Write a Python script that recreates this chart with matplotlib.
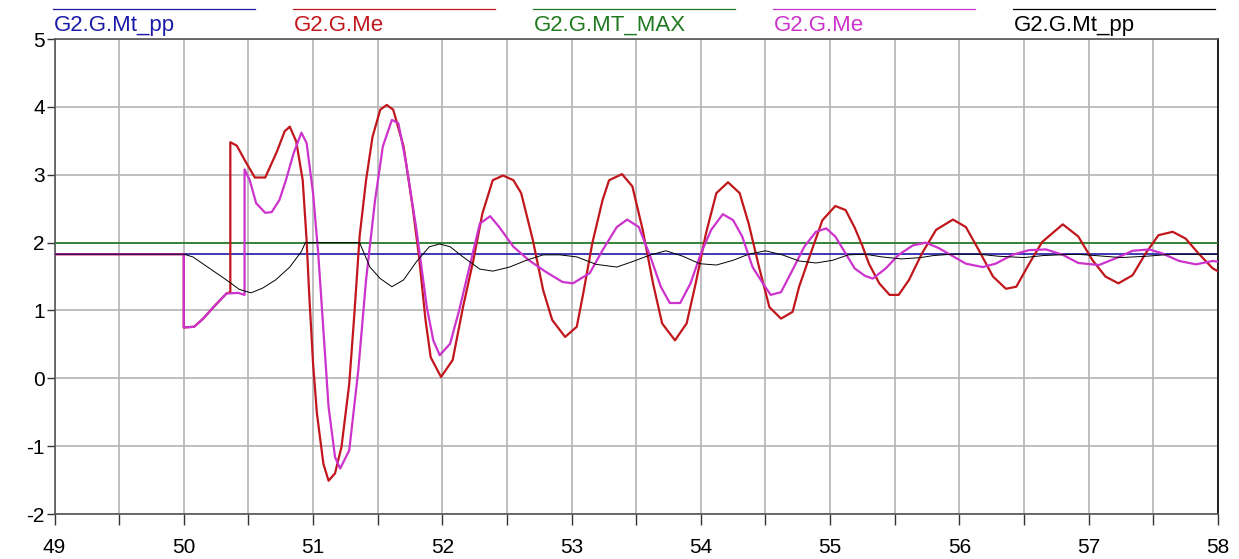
import numpy as np
import matplotlib
matplotlib.use("Agg")
import matplotlib.pyplot as plt
from matplotlib.lines import Line2D
from matplotlib.ticker import MultipleLocator

plt.rcParams["font.family"] = ["Liberation Sans", "DejaVu Sans"]
plt.rcParams["axes.unicode_minus"] = False

# -------------------------
# Data
# -------------------------
mt_pp_level = 1.83
mt_max_level = 2.0
x_range = [49, 58]

me_red_x = [49, 50.0, 50.0, 50.08, 50.15, 50.23, 50.33, 50.36, 50.36, 50.41, 50.485, 50.55,
            50.63, 50.72, 50.78, 50.82, 50.87, 50.92, 50.95, 50.97, 51.0, 51.03, 51.08, 51.12,
            51.17, 51.22, 51.28, 51.32, 51.36, 51.41, 51.46, 51.52, 51.57, 51.62, 51.70, 51.77,
            51.82, 51.87, 51.91, 51.99, 52.08, 52.16, 52.24, 52.31, 52.39, 52.47, 52.55, 52.61,
            52.70, 52.78, 52.85, 52.95, 53.04, 53.09, 53.16, 53.24, 53.29, 53.39, 53.47, 53.55,
            53.63, 53.70, 53.80, 53.89, 53.96, 54.04, 54.12, 54.21, 54.30, 54.37, 54.45, 54.53,
            54.62, 54.71, 54.76, 54.84, 54.94, 55.04, 55.12, 55.19, 55.25, 55.30, 55.38, 55.46,
            55.53, 55.61, 55.71, 55.82, 55.95, 56.05, 56.15, 56.26, 56.36, 56.44, 56.54, 56.64,
            56.80, 56.92, 57.03, 57.13, 57.23, 57.34, 57.44, 57.54, 57.65, 57.75, 57.85, 57.96, 58.0]
me_red_y = [1.83, 1.83, 0.75, 0.76, 0.88, 1.05, 1.25, 1.27, 3.48, 3.43, 3.17, 2.96,
            2.96, 3.34, 3.64, 3.71, 3.49, 2.92, 2.04, 1.25, 0.22, -0.52, -1.26, -1.51,
            -1.40, -1.01, -0.08, 0.96, 2.09, 2.92, 3.56, 3.96, 4.03, 3.96, 3.42, 2.53,
            1.79, 0.86, 0.31, 0.02, 0.27, 1.05, 1.74, 2.43, 2.92, 2.99, 2.92, 2.73,
            2.04, 1.30, 0.86, 0.61, 0.76, 1.25, 1.99, 2.63, 2.92, 3.01, 2.83, 2.19,
            1.40, 0.81, 0.56, 0.81, 1.40, 2.14, 2.73, 2.89, 2.73, 2.28, 1.64, 1.05,
            0.88, 0.98, 1.35, 1.79, 2.33, 2.54, 2.48, 2.22, 1.95, 1.69, 1.40, 1.23,
            1.23, 1.45, 1.84, 2.19, 2.34, 2.23, 1.89, 1.50, 1.32, 1.35, 1.69, 2.01,
            2.27, 2.09, 1.74, 1.50, 1.40, 1.52, 1.84, 2.11, 2.16, 2.06, 1.84, 1.62, 1.58]

me_mag_x = [49, 50.0, 50.0, 50.08, 50.15, 50.23, 50.33, 50.42, 50.47, 50.47, 50.51, 50.56,
            50.63, 50.68, 50.74, 50.79, 50.85, 50.91, 50.95, 51.0, 51.04, 51.08, 51.12, 51.17,
            51.21, 51.28, 51.35, 51.41, 51.48, 51.54, 51.61, 51.66, 51.72, 51.80, 51.88, 51.93,
            51.98, 52.06, 52.13, 52.21, 52.29, 52.37, 52.44, 52.55, 52.67, 52.80, 52.93, 53.01,
            53.14, 53.24, 53.35, 53.43, 53.52, 53.61, 53.69, 53.76, 53.84, 53.92, 54.0, 54.08,
            54.17, 54.25, 54.32, 54.40, 54.48, 54.54, 54.62, 54.71, 54.80, 54.89, 54.97, 55.04,
            55.12, 55.19, 55.27, 55.33, 55.43, 55.53, 55.64, 55.74, 55.84, 55.95, 56.05, 56.18,
            56.28, 56.41, 56.54, 56.67, 56.80, 56.92, 57.08, 57.21, 57.34, 57.47, 57.57, 57.70,
            57.83, 57.96, 58.0]
me_mag_y = [1.83, 1.83, 0.75, 0.76, 0.88, 1.05, 1.25, 1.26, 1.23, 3.08, 2.92, 2.58,
            2.44, 2.45, 2.63, 2.92, 3.32, 3.62, 3.47, 2.73, 1.84, 0.71, -0.42, -1.16,
            -1.33, -1.06, 0.12, 1.45, 2.63, 3.42, 3.81, 3.76, 3.17, 2.19, 1.05, 0.56,
            0.34, 0.51, 1.0, 1.64, 2.28, 2.39, 2.23, 1.94, 1.74, 1.57, 1.42, 1.40,
            1.55, 1.89, 2.23, 2.34, 2.23, 1.79, 1.35, 1.11, 1.11, 1.40, 1.84, 2.19,
            2.42, 2.33, 2.09, 1.64, 1.40, 1.23, 1.27, 1.60, 1.94, 2.16, 2.21, 2.09,
            1.84, 1.62, 1.51, 1.47, 1.62, 1.82, 1.96, 2.0, 1.92, 1.80, 1.69, 1.64,
            1.69, 1.82, 1.89, 1.90, 1.82, 1.70, 1.67, 1.77, 1.88, 1.90, 1.84, 1.73,
            1.68, 1.73, 1.72]

mt_blk_x = [49, 50.0, 50.07, 50.20, 50.33, 50.43, 50.52, 50.61, 50.71, 50.82, 50.91, 50.94,
            51.36, 51.44, 51.52, 51.61, 51.70, 51.80, 51.90, 51.98, 52.06, 52.16, 52.29, 52.39,
            52.52, 52.65, 52.78, 52.91, 53.04, 53.19, 53.35, 53.47, 53.61, 53.73, 53.86, 53.99,
            54.12, 54.25, 54.37, 54.50, 54.63, 54.76, 54.89, 55.02, 55.14, 55.27, 55.40, 55.55,
            55.70, 55.80, 55.95, 56.15, 56.30, 56.50, 56.65, 56.90, 57.05, 57.25, 57.45, 57.65, 58.0]
mt_blk_y = [1.83, 1.83, 1.79, 1.62, 1.45, 1.31, 1.26, 1.33, 1.45, 1.64, 1.87, 2.0,
            2.0, 1.64, 1.47, 1.35, 1.45, 1.72, 1.94, 1.98, 1.94, 1.79, 1.61, 1.58,
            1.64, 1.74, 1.82, 1.82, 1.79, 1.68, 1.64, 1.72, 1.82, 1.88, 1.80, 1.69,
            1.67, 1.74, 1.83, 1.88, 1.82, 1.73, 1.70, 1.74, 1.82, 1.83, 1.79, 1.76,
            1.78, 1.81, 1.83, 1.83, 1.80, 1.78, 1.81, 1.83, 1.81, 1.78, 1.80, 1.83, 1.83]

labels = ["G2.G.Mt_pp", "G2.G.Me", "G2.G.MT_MAX", "G2.G.Me", "G2.G.Mt_pp"]
colors = ["#1a1aa6", "#c0161c", "#1f7a1f", "#cc33cc", "#000000"]

# -------------------------
# Plot
# -------------------------
fig = plt.figure(figsize=(12.39, 5.59), dpi=100)
ax = fig.add_axes([0.044, 0.0805, 0.939, 0.8495])

ax.plot(x_range, [mt_pp_level] * 2, color=colors[0], lw=1.2, zorder=3)
ax.plot(me_red_x, me_red_y, color=colors[1], lw=1.6, zorder=4)
ax.plot(x_range, [mt_max_level] * 2, color=colors[2], lw=1.2, zorder=3)
ax.plot(me_mag_x, me_mag_y, color=colors[3], lw=1.6, zorder=5)
ax.plot(mt_blk_x, mt_blk_y, color=colors[4], lw=0.7, zorder=6)

ax.set_xlim(49, 58)
ax.set_ylim(-2, 5)
ax.xaxis.set_major_locator(MultipleLocator(1))
ax.xaxis.set_minor_locator(MultipleLocator(0.5))
ax.yaxis.set_major_locator(MultipleLocator(1))

grid_color = "#b4b4b4"
ax.grid(True, which="major", color=grid_color, lw=1.2)
ax.grid(True, which="minor", axis="x", color=grid_color, lw=1.2)
ax.set_axisbelow(True)

for side in ["top", "bottom", "left"]:
    ax.spines[side].set_color("#555555")
    ax.spines[side].set_linewidth(1.2)
ax.spines["right"].set_color("#000000")
ax.spines["right"].set_linewidth(1.2)

ax.tick_params(axis="x", which="major", direction="out", length=8, width=1,
               color="#333333", labelsize=15, pad=9)
ax.tick_params(axis="x", which="minor", direction="out", length=8, width=1, color="#333333")
ax.tick_params(axis="y", which="major", direction="out", length=6, width=1,
               color="#333333", labelsize=15, pad=1)

# -------------------------
# Header legend
# -------------------------
W, H = 1239.0, 559.0
for i, (lab, col) in enumerate(zip(labels, colors)):
    x0 = 53 + 240 * i
    fig.add_artist(Line2D([x0 / W, (x0 + 202) / W], [1 - 9 / H, 1 - 9 / H],
                          color=col, lw=0.9, transform=fig.transFigure))
    fig.text((x0 + 1) / W, 1 - 31 / H, lab, color=col, fontsize=16, va="baseline")

fig.savefig("out.png", dpi=100)
